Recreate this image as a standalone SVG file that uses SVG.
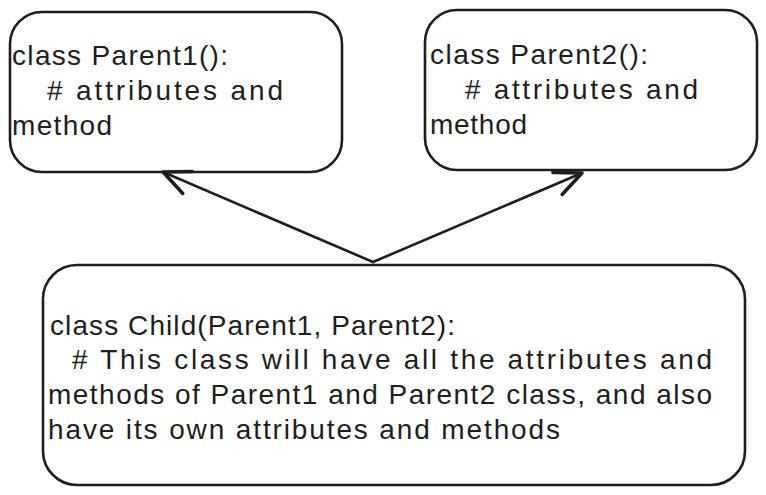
<svg xmlns="http://www.w3.org/2000/svg" width="766" height="495" viewBox="0 0 766 495">
<style>
.box{fill:#ffffff;stroke:#1e1e1e;stroke-width:2.6;stroke-linejoin:round}
.t{font-family:"Liberation Sans","Open Sans",sans-serif;font-size:28px;fill:#1e1e1e}
.conn{fill:none;stroke:#1e1e1e;stroke-width:2.6;stroke-linecap:round}
</style>
<defs>
<marker id="ah" markerUnits="userSpaceOnUse" markerWidth="40" markerHeight="40" viewBox="-25 -15 30 30" refX="0" refY="0" orient="auto">
<path d="M-20,-9 L0,0 L-20,9" fill="none" stroke="#1e1e1e" stroke-width="2.6" stroke-linecap="round" stroke-linejoin="round"/>
</marker>
</defs>
<rect width="766" height="495" fill="#ffffff"/>
<g id="parent1">
<rect class="box" x="10" y="12" width="332" height="160" rx="32"/>
<text class="t" x="12" y="65" textLength="216">class Parent1():</text>
<text class="t" x="47" y="100" textLength="236">#  attributes and</text>
<text class="t" x="12" y="135" textLength="100">method</text>
</g>
<g id="parent2">
<rect class="box" x="425" y="10" width="332" height="160" rx="32"/>
<text class="t" x="430" y="64" textLength="218">class Parent2():</text>
<text class="t" x="465" y="99" textLength="233">#  attributes and</text>
<text class="t" x="430" y="134" textLength="97">method</text>
</g>
<g id="child">
<rect class="box" x="43" y="265" width="702" height="220" rx="34"/>
<text class="t" x="50" y="335" textLength="405">class Child(Parent1, Parent2):</text>
<text class="t" x="72" y="369" textLength="640">#  This class will have all the attributes and</text>
<text class="t" x="48" y="404" textLength="664">methods of Parent1 and Parent2 class, and also</text>
<text class="t" x="48" y="439" textLength="512">have its own attributes and methods</text>
</g>
<g id="connectors">
<path class="conn" d="M373,262 L163,172" marker-end="url(#ah)"/>
<path class="conn" d="M373,262 L582,173" marker-end="url(#ah)"/>
</g>
</svg>
